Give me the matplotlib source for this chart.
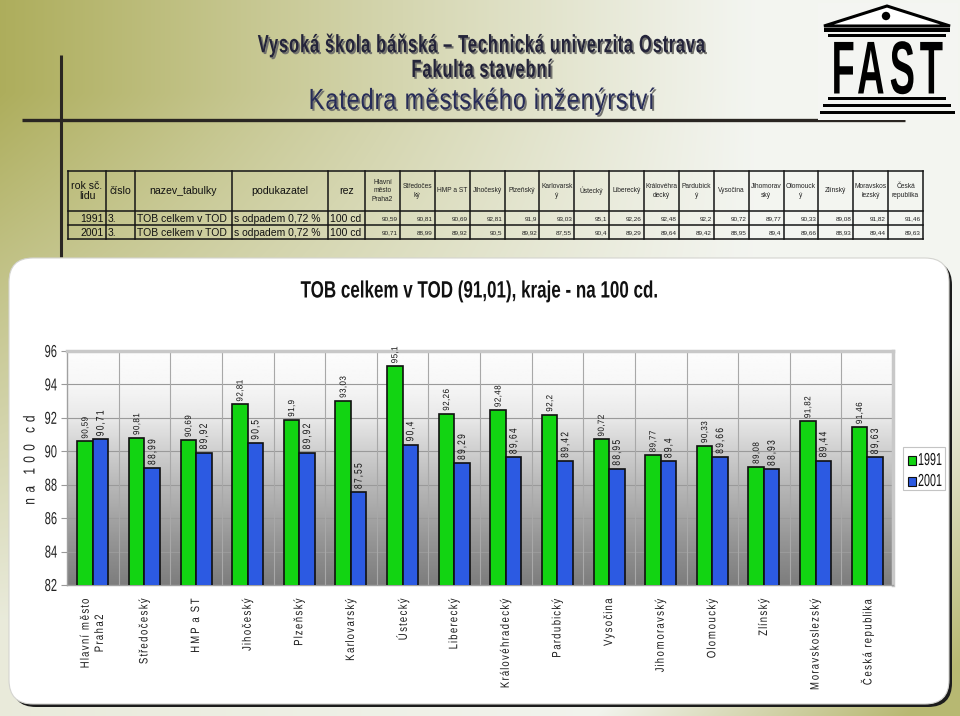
import numpy as np
import matplotlib
matplotlib.use('Agg')
import matplotlib.pyplot as plt
from matplotlib.patches import FancyBboxPatch, Polygon, Circle, Rectangle
import matplotlib.patheffects as pe
from matplotlib.path import Path
from matplotlib.transforms import Affine2D
from matplotlib import font_manager

# ---------------- data ----------------
regions = ["Hlavní město\nPraha2", "Středočeský", "HMP a ST", "Jihočeský", "Plzeňský",
           "Karlovarský", "Ústecký", "Liberecký", "Královéhradecký", "Pardubický",
           "Vysočina", "Jihomoravský", "Olomoucký", "Zlínský", "Moravskoslezský",
           "Česká republika"]
table_regions = ["Hlavní\nměsto\nPraha2", "Středočes\nký", "HMP a ST", "Jihočeský", "Plzeňský",
                 "Karlovarsk\ný", "Ústecký", "Liberecký", "Královéhra\ndecký", "Pardubick\ný",
                 "Vysočina", "Jihomorav\nský", "Olomouck\ný", "Zlínský", "Moravskos\nlezský",
                 "Česká\nrepublika"]
years = ["1991", "2001"]
v1991 = [90.59, 90.81, 90.69, 92.81, 91.9, 93.03, 95.1, 92.26, 92.48, 92.2,
         90.72, 89.77, 90.33, 89.08, 91.82, 91.46]
v2001 = [90.71, 88.99, 89.92, 90.5, 89.92, 87.55, 90.4, 89.29, 89.64, 89.42,
         88.95, 89.4, 89.66, 88.93, 89.44, 89.63]
yticks = [82, 84, 86, 88, 90, 92, 94, 96]
table_cols = ["rok sč.\nlidu", "číslo", "nazev_tabulky", "podukazatel", "rez"]
table_meta = ["3.", "TOB celkem v TOD", "s odpadem 0,72 %", "100 cd"]
chart_title = "TOB celkem v TOD (91,01), kraje - na 100 cd."
ylabel = "na 100 cd"
header1 = "Vysoká škola báňská – Technická univerzita Ostrava"
header2 = "Fakulta stavební"
header3 = "Katedra městského inženýrství"
logo = "FAST"

GREEN = '#12d412'
BLUE = '#2c5ae2'

names = {f.name for f in font_manager.fontManager.ttflist}
SANS = 'Liberation Sans' if 'Liberation Sans' in names else 'DejaVu Sans'
plt.rcParams['font.family'] = [SANS, 'DejaVu Sans']


class Typeset(pe.AbstractPathEffect):
    """Draw text with narrower glyph shapes (shape), scaled glyph positions (pos)
    and an optional vertical stretch about the baseline (yscale)."""

    def __init__(self, shape=0.8, pos=1.0, anchor='center', shadow=None,
                 shadow_color=(0.45, 0.45, 0.43), yscale=1.0):
        super().__init__()
        self.shape, self.pos, self.anchor = shape, pos, anchor
        self.shadow, self.shadow_color = shadow, shadow_color
        self.yscale = yscale

    def _reshape(self, tpath):
        v = np.array(tpath.vertices, dtype=float)
        codes = tpath.codes
        if codes is None or len(v) == 0:
            return tpath
        codes = np.asarray(codes)
        valid = codes != Path.CLOSEPOLY
        if not valid.any():
            return tpath
        xs = v[valid, 0]
        if self.anchor == 'center':
            xa = (xs.min() + xs.max()) / 2
        elif self.anchor == 'left':
            xa = min(0.0, xs.min())
        else:
            xa = xs.max()
        starts = list(np.flatnonzero(codes == Path.MOVETO)) + [len(v)]
        out = v.copy()
        for a, b in zip(starts[:-1], starts[1:]):
            m = valid[a:b]
            if not m.any():
                continue
            sx = v[a:b, 0][m]
            cx = (sx.min() + sx.max()) / 2
            out[a:b, 0] = xa + (cx - xa) * self.pos + (v[a:b, 0] - cx) * self.shape
        out[:, 1] = v[:, 1] * self.yscale
        return Path(out, codes)

    def draw_path(self, renderer, gc, tpath, affine, rgbFace=None):
        p = self._reshape(tpath)
        if self.shadow is not None:
            dx = renderer.points_to_pixels(self.shadow[0])
            dy = renderer.points_to_pixels(self.shadow[1])
            gc0 = renderer.new_gc()
            gc0.copy_properties(gc)
            gc0.set_foreground(self.shadow_color)
            gc0.set_linewidth(0)
            renderer.draw_path(gc0, p, affine + Affine2D().translate(dx, dy), self.shadow_color)
            gc0.restore()
        renderer.draw_path(gc, p, affine, rgbFace)


def fmt(v):
    return str(v).replace('.', ',')


W, H = 960, 716
fig = plt.figure(figsize=(9.6, 7.16), dpi=100)

# ---------------- background (pixel coordinate layer) ----------------
bg = fig.add_axes([0, 0, 1, 1])
xx, yy = np.meshgrid(np.arange(W) + 0.5, np.arange(H) + 0.5)
w_left = np.clip(1 - xx / 760, 0, 1) ** 1.1 * np.clip(1.15 - yy / 620, 0.15, 1)
w_br = np.clip((xx + yy - 1300) / 380, 0, 0.85)
w = np.maximum(w_left, w_br)
olive = np.array([0.68, 0.68, 0.36])
light = np.array([0.955, 0.962, 0.945])
img = light[None, None, :] * (1 - w[..., None]) + olive[None, None, :] * w[..., None]
bg.imshow(img, extent=(0, W, H, 0), interpolation='bilinear', zorder=0)
bg.set_xlim(0, W)
bg.set_ylim(H, 0)
bg.axis('off')

# header lines
bg.plot([22, 905], [119.5, 119.5], color='#2a2622', lw=2.4, solid_capstyle='butt', zorder=2)
bg.plot([60.5, 60.5], [55, 257], color='#2a2622', lw=2.2, solid_capstyle='butt', zorder=2)

bg.text(481, 45, header1, ha='center', va='center', fontsize=18, fontweight='bold',
        color='#24243a', zorder=3,
        path_effects=[Typeset(0.66, 0.72, 'center', shadow=(1.3, -1.3))])
bg.text(481, 70, header2, ha='center', va='center', fontsize=18, fontweight='bold',
        color='#24243a', zorder=3,
        path_effects=[Typeset(0.66, 0.72, 'center', shadow=(1.3, -1.3))])
bg.text(481, 101, header3, ha='center', va='center', fontsize=21,
        color='#272c58', zorder=3,
        path_effects=[Typeset(0.8, 0.87, 'center', shadow=(1.3, -1.3))])

# FAST logo
bg.add_patch(Rectangle((818, 3), 140, 117, facecolor='#f4f5f2', edgecolor='none', zorder=2))
bg.add_patch(Polygon([[824, 26], [887, 6], [950, 26]], closed=True, facecolor='white',
                     edgecolor='black', lw=2.2, joinstyle='miter', zorder=3))
bg.add_patch(Circle((886, 16), 4.2, facecolor='black', zorder=4))
for (x0, x1, y0, hgt) in [(824, 950, 28, 3.5), (828, 946, 33.5, 3), (828, 946, 97, 3),
                          (823, 951, 104, 3), (820, 955, 111, 3)]:
    bg.add_patch(Rectangle((x0, y0), x1 - x0, hgt, facecolor='black', zorder=3))
bg.text(887, 93.5, logo, ha='center', va='baseline', fontsize=38, fontweight='bold',
        color='black', zorder=4,
        path_effects=[Typeset(0.72, 0.86, 'center', yscale=1.42)])

# ---------------- table ----------------
col_x = [68, 106, 135, 232, 328, 365]
num_w = (923 - 365) / len(table_regions)
col_x += [365 + num_w * (i + 1) for i in range(len(table_regions))]
row_y = [171, 211, 225, 239]
for x in col_x:
    bg.plot([x, x], [row_y[0], row_y[-1]], color='#151515', lw=1.1, zorder=3)
for y in row_y:
    bg.plot([col_x[0], col_x[-1]], [y, y], color='#151515', lw=1.1, zorder=3)
hy = (row_y[0] + row_y[1]) / 2
for i, t in enumerate(table_cols):
    bg.text((col_x[i] + col_x[i + 1]) / 2, hy, t, ha='center', va='center', fontsize=7.6,
            color='#111', linespacing=1.0, zorder=4)
for j, t in enumerate(table_regions):
    bg.text((col_x[5 + j] + col_x[6 + j]) / 2, hy, t, ha='center', va='center', fontsize=4.8,
            color='#222', linespacing=1.25, zorder=4)
for r, (yr, vals) in enumerate(zip(years, [v1991, v2001])):
    cy = (row_y[r + 1] + row_y[r + 2]) / 2 + 0.5
    bg.text(col_x[1] - 2, cy, yr, ha='right', va='center', fontsize=7.5, color='#111', zorder=4)
    for k, t in enumerate(table_meta):
        bg.text(col_x[1 + k] + 2, cy, t, ha='left', va='center', fontsize=7.5, color='#111', zorder=4)
    for j, v in enumerate(vals):
        bg.text(col_x[6 + j] - 2, cy, fmt(v), ha='right', va='center', fontsize=4.6,
                color='#222', zorder=4)

# ---------------- chart panel ----------------
px0, py0, px1, py1 = 9, 258, 949, 704
bg.add_patch(FancyBboxPatch((px0 + 3, py0 + 3), px1 - px0, py1 - py0,
                            boxstyle="round,pad=0,rounding_size=24",
                            facecolor='#1c1c1c', edgecolor='none', zorder=5))
bg.add_patch(FancyBboxPatch((px0, py0), px1 - px0, py1 - py0,
                            boxstyle="round,pad=0,rounding_size=24",
                            facecolor='white', edgecolor='#d4d4d0', lw=0.8, zorder=6))

fig.text(480 / W, 1 - 291 / H, chart_title, ha='center', va='center', fontsize=17,
         fontweight='bold', color='#111', path_effects=[Typeset(0.72, 0.72, 'center')])
fig.text(30 / W, 1 - 460 / H, ylabel, ha='center', va='center', rotation=90, fontsize=11.5,
         color='#222', path_effects=[Typeset(0.75, 1.35, 'center')])

# legend (frame, keys and labels)
bg.add_patch(Rectangle((903, 447), 42, 43, facecolor='white', edgecolor='#c4c4c4', lw=0.8, zorder=7))
for k, (lab, col) in enumerate(zip(years, [GREEN, BLUE])):
    cy = 460 + 21 * k
    bg.add_patch(Rectangle((907.5, cy - 4.5), 8, 9, facecolor=col, edgecolor='#101010',
                           lw=0.8, zorder=8))
    bg.text(918, cy + 0.5, lab, ha='left', va='center', fontsize=12.5, color='#111', zorder=8,
            path_effects=[Typeset(0.62, 0.62, 'left')])

# ---------------- bar chart ----------------
ax = fig.add_axes([67 / W, 1 - 585 / H, 826 / W, 234 / H])
n = len(regions)
x = np.arange(n)

prof_y = np.array([82, 84, 86, 88, 90, 92, 94, 96])
prof_v = np.array([0.49, 0.56, 0.64, 0.72, 0.81, 0.91, 0.965, 0.99])
ys = np.linspace(82, 96, 200)
grad = np.interp(ys, prof_y, prof_v)[::-1][:, None] * np.ones((1, 2))
ax.imshow(grad, extent=(-0.5, n - 0.5, 82, 96), aspect='auto', cmap='gray', vmin=0, vmax=1,
          interpolation='bilinear', zorder=0)
ax.set_xlim(-0.5, n - 0.5)
ax.set_ylim(yticks[0], yticks[-1])

for yv in yticks[1:-1]:
    ax.axhline(yv, color='#9a9a9a', lw=0.8, zorder=1)
for b in x[:-1] + 0.5:
    ax.axvline(b, color='#a8a8a8', lw=0.8, zorder=1)

bw = 0.3
ax.bar(x - bw / 2, v1991, bw, color=GREEN, edgecolor='#101010', lw=1.2, zorder=3)
ax.bar(x + bw / 2, v2001, bw, color=BLUE, edgecolor='#101010', lw=1.2, zorder=3)
for i in range(n):
    ax.text(x[i] - bw / 2, v1991[i] + 0.15, fmt(v1991[i]), rotation=90, ha='center',
            va='bottom', fontsize=6.4, color='#111', zorder=4,
            path_effects=[Typeset(0.9, 1.0)])
    ax.text(x[i] + bw / 2, v2001[i] + 0.15, fmt(v2001[i]), rotation=90, ha='center',
            va='bottom', fontsize=7.8, color='#111', zorder=4,
            path_effects=[Typeset(0.78, 1.0)])

ax.set_yticks(yticks)
ax.set_yticklabels([str(t) for t in yticks], fontsize=12.5, color='#222')
ax.set_xticks(x)
ax.set_xticklabels(regions, rotation=90, fontsize=8.8, color='#1a1a1a', linespacing=1.25,
                   multialignment='center')
for t in ax.xaxis.get_major_ticks(n):
    t.label1.set_path_effects([Typeset(0.78, 1.0)])
for t in ax.yaxis.get_major_ticks(len(yticks)):
    t.label1.set_path_effects([Typeset(0.64, 0.64, 'right')])
ax.tick_params(axis='x', length=0, pad=9)
ax.tick_params(axis='y', length=4, color='#9a9a9a', pad=3, width=0.8)
for s in ['left', 'bottom']:
    ax.spines[s].set_color('#a0a0a0')
    ax.spines[s].set_linewidth(1.0)
for s in ['top', 'right']:
    ax.spines[s].set_color('#c8c8c8')
    ax.spines[s].set_linewidth(2.5)

fig.savefig('out.png', dpi=100)
